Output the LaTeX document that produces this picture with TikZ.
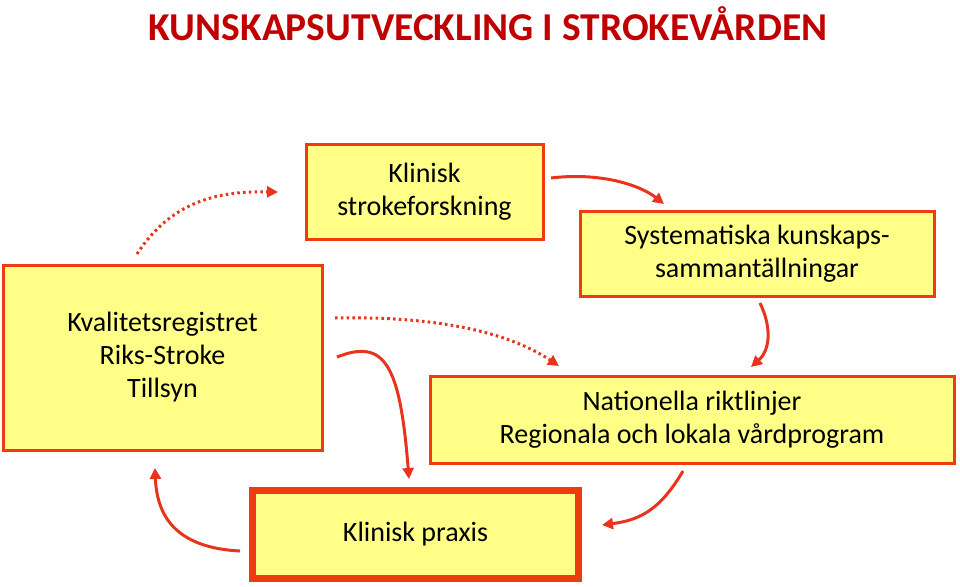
\documentclass[tikz,border=0pt]{standalone}
\usepackage{fontspec}
\setmainfont{Carlito}
\usetikzlibrary{arrows.meta}
\definecolor{boxfill}{HTML}{FFFF88}
\definecolor{boxline}{HTML}{F03A10}
\definecolor{arrowcol}{HTML}{E8341C}
\definecolor{titlered}{HTML}{C00000}
\tikzset{
  box/.style={draw=boxline, line width=3pt, fill=boxfill, inner sep=0pt, align=center,
    font=\fontsize{28}{33}\selectfont},
  solidarrow/.style={draw=arrowcol, line width=3pt, -{Triangle[length=11pt,width=11pt]}},
  dotarrow/.style={draw=arrowcol, line width=3pt, dash pattern=on 2.6pt off 3.2pt,
    -{Triangle[length=11pt,width=11pt]}},
}
\begin{document}
\begin{tikzpicture}[x=1pt,y=-1pt]
\useasboundingbox (0,0) rectangle (960,586);
% title
\node (title)[text=titlered, font=\fontsize{39.5}{42}\selectfont\bfseries] at (488,23.5) {KUNSKAPSUTVECKLING I STROKEVÅRDEN};
% boxes
\node (forsk)[box, minimum width=237pt, minimum height=95pt] at (424.5,192) {Klinisk\\strokeforskning};
\node (syst)[box, minimum width=354pt, minimum height=85pt] at (757,254) {Systematiska kunskaps-\\sammantällningar};
\node (kval)[box, minimum width=319pt, minimum height=185pt] at (162.5,357.5) {Kvalitetsregistret\\Riks-Stroke\\Tillsyn};
\node (nat)[box, minimum width=524pt, minimum height=87pt] at (692,420) {Nationella riktlinjer\\Regionala och lokala vårdprogram};
\node (prax)[box, line width=7pt, minimum width=326pt, minimum height=88pt] at (415.5,534.5) {Klinisk praxis};
\draw[boxline, line width=1.8pt] ([shift={(6.5,6.5)}]prax.north west) rectangle ([shift={(-6.5,-6.5)}]prax.south east);
% arrow endpoints
\coordinate (a1) at (137,254); \coordinate (a2) at (278,192);
\coordinate (b1) at (551,178); \coordinate (b2) at (664,204);
\coordinate (c1) at (760,303); \coordinate (c2) at (751,367);
\coordinate (d1) at (335,318); \coordinate (d2) at (559,366);
\coordinate (e1) at (337,357); \coordinate (e2) at (409,479);
\coordinate (f1) at (683,471); \coordinate (f2) at (602,525);
\coordinate (g1) at (240,551); \coordinate (g2) at (155,468);
% arrows
\draw[dotarrow] (a1) .. controls (172,200) and (220,191) .. (a2);
\draw[solidarrow] (b1) .. controls (600,172) and (640,185) .. (b2);
\draw[solidarrow] (c1) .. controls (772,328) and (770,350) .. (c2);
\draw[dotarrow] (d1) .. controls (430,316) and (505,330) .. (d2);
\draw[solidarrow] (e1) .. controls (385,338) and (400,365) .. (e2);
\draw[solidarrow] (f1) .. controls (660,510) and (640,520) .. (f2);
\draw[solidarrow] (g1) .. controls (180,548) and (157,520) .. (g2);
\end{tikzpicture}
\end{document}
